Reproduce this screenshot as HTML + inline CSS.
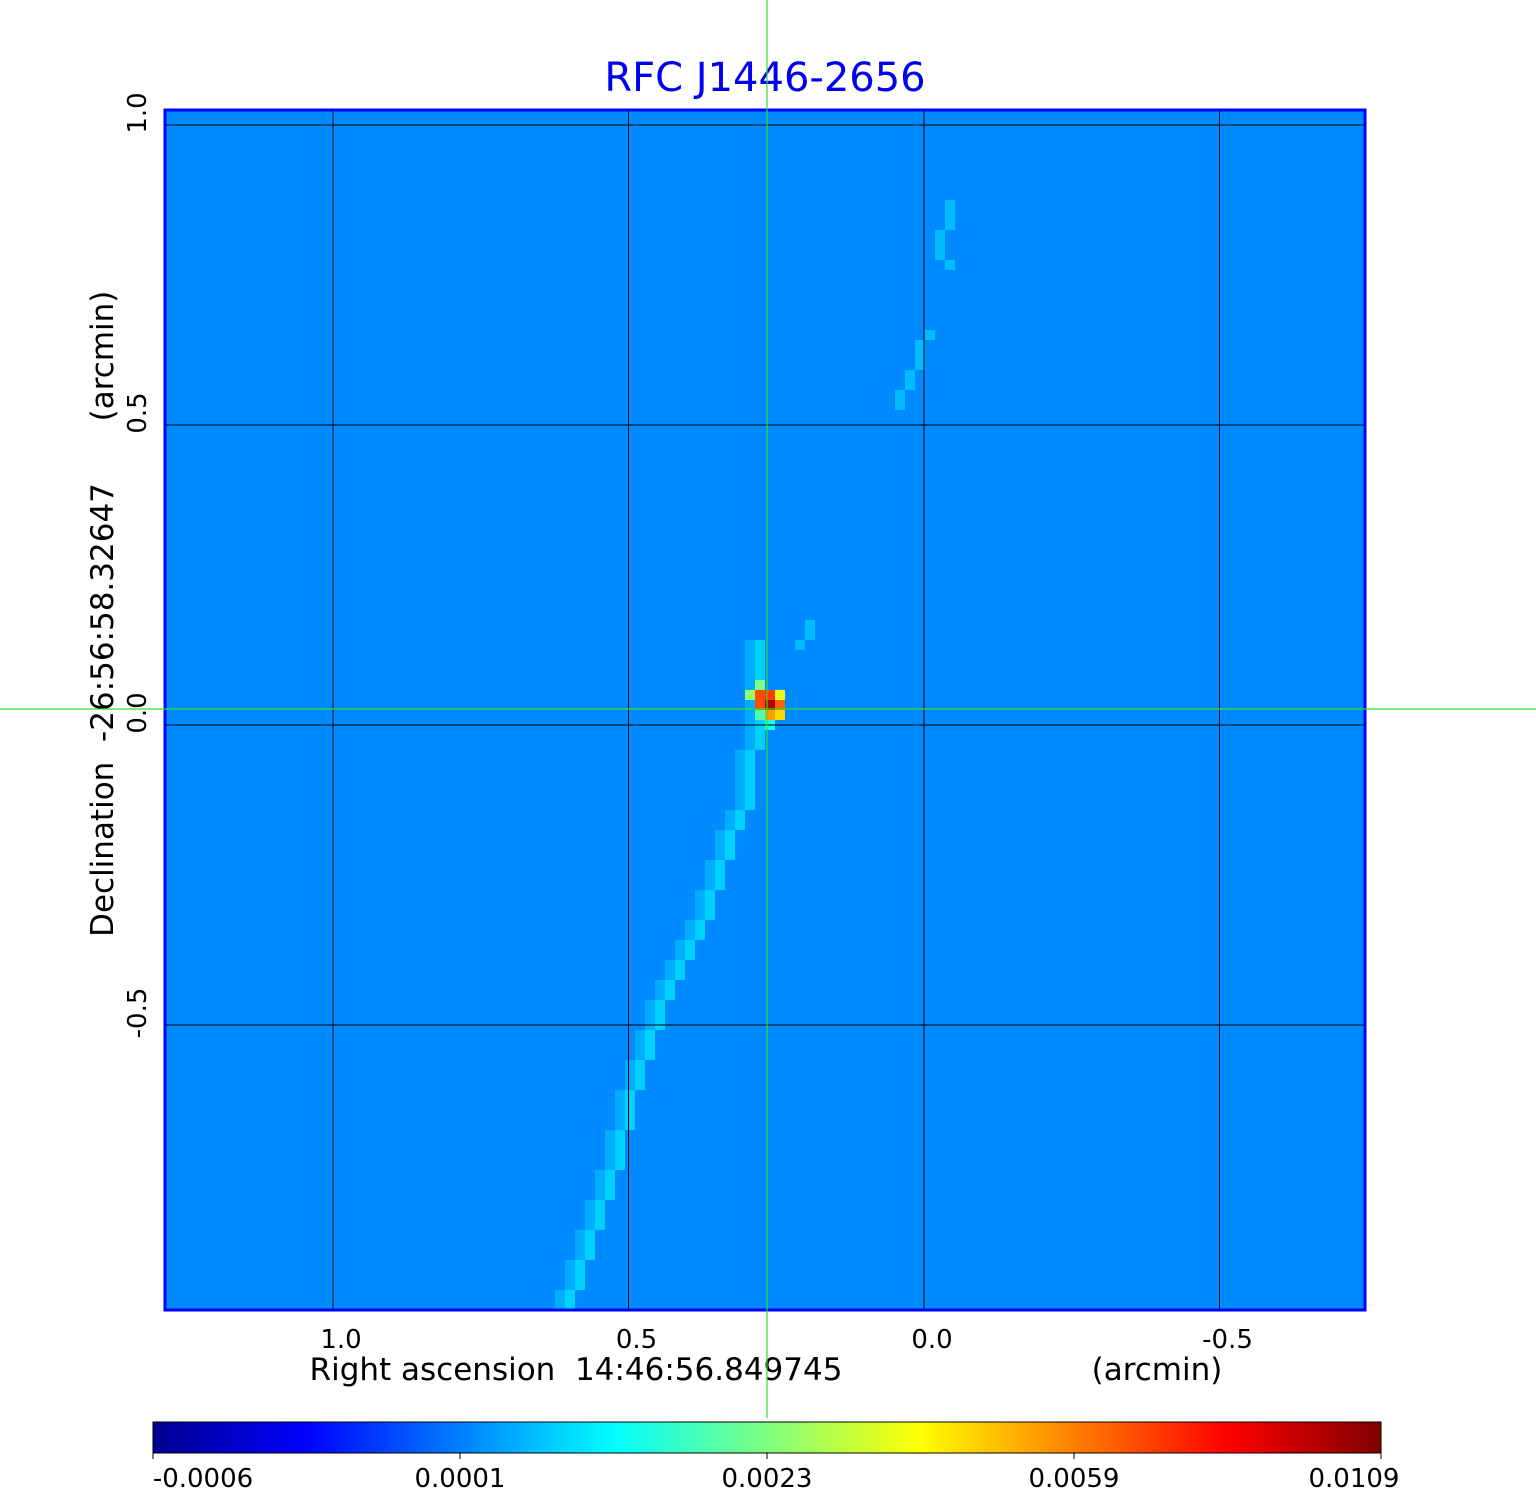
<!DOCTYPE html>
<html><head><meta charset="utf-8"><style>
body{margin:0;background:#fff;}
svg{display:block;font-family:"DejaVu Sans","Liberation Sans",sans-serif;}
text{white-space:pre;}
</style></head><body>
<svg id="fig" width="1536" height="1511" viewBox="0 0 1536 1511" xml:space="preserve">
<defs>
<linearGradient id="jet" x1="0" x2="1" y1="0" y2="0">
<stop offset="0" stop-color="#00008f"/><stop offset="0.125" stop-color="#0000ff"/>
<stop offset="0.375" stop-color="#00ffff"/><stop offset="0.625" stop-color="#ffff00"/>
<stop offset="0.875" stop-color="#ff0000"/><stop offset="1" stop-color="#800000"/>
</linearGradient>
</defs>
<text x="765" y="91" font-size="40" fill="#0000ee" text-anchor="middle">RFC J1446-2656</text>
<g id="image"></g>
<g id="grid"></g>
<rect x="165" y="110" width="1200" height="1200" fill="none" stroke="#0000ff" stroke-width="3"/>
<g id="ticks" font-size="26" fill="#000"></g>
<text x="576" y="1380" font-size="31" text-anchor="middle">Right ascension  14:46:56.849745</text>
<text x="1157" y="1380" font-size="31" text-anchor="middle">(arcmin)</text>
<text transform="translate(113,710) rotate(-90)" font-size="31" text-anchor="middle">Declination  -26:56:58.32647</text>
<text transform="translate(113,356) rotate(-90)" font-size="31" text-anchor="middle">(arcmin)</text>
<rect x="153" y="1422" width="1228" height="31" fill="url(#jet)" stroke="#000" stroke-width="1"/>
<g id="cbticks" font-size="26"></g>
<line x1="767" y1="0" x2="767" y2="1418" stroke="#33dd33" stroke-width="1.2"/>
<line x1="0" y1="709" x2="1536" y2="709" stroke="#33dd33" stroke-width="1.2"/>
</svg>
<script>
const bgLevel = 0.26;
const streakStartRow = 53;
const streakCol = [59,59,59,59,59,59,59,59,59,59,59,58,58,58,58,58,58,57,57,56,56,56,55,55,55,54,54,54,53,53,52,52,51,51,50,50,49,49,49,48,48,48,47,47,47,46,46,46,46,45,45,45,45,44,44,44,43,43,43,42,42,42,41,41,41,40,40];
const streakLevel = 0.33;
const faintCells = [[78,9],[78,10],[78,11],[77,12],[77,13],[77,14],[78,15],[76,22],[75,23],[75,24],[75,25],[74,26],[74,27],[73,28],[73,29],[64,51],[64,52],[63,53]];
const faintLevel = 0.31;
const sourceCells = [[59,57,0.5],[58,58,0.52],[59,58,0.8],[60,58,0.82],[61,58,0.6],[59,59,0.8],[60,59,0.95],[61,59,0.78],[59,60,0.45],[60,60,0.72],[61,60,0.66],[60,61,0.4]];
const xTicks = [1.0,0.5,0.0,-0.5];
const xTickLabels = ["1.0","0.5","0.0","-0.5"];
const yTicks = [1.0,0.5,0.0,-0.5];
const yTickLabels = ["1.0","0.5","0.0","-0.5"];
const cbLabels = ["-0.0006","0.0001","0.0023","0.0059","0.0109"];

const NS="http://www.w3.org/2000/svg";
const X0=165,Y0=110,SZ=1200,CELL=10;
function xs(v){return 924 - v*591;}
function ys(v){return 725 - v*600;}
function jet(t){
  const r=Math.max(0,Math.min(1,Math.min(4*t-1.5,-4*t+4.5)));
  const g=Math.max(0,Math.min(1,Math.min(4*t-0.5,-4*t+3.5)));
  const b=Math.max(0,Math.min(1,Math.min(4*t+0.5,-4*t+2.5)));
  return `rgb(${Math.round(r*255)},${Math.round(g*255)},${Math.round(b*255)})`;
}
const img=document.getElementById('image');
function cell(c,r,t,name){
  const e=document.createElementNS(NS,'rect');
  e.setAttribute('x',X0+c*CELL);e.setAttribute('y',Y0+r*CELL);
  e.setAttribute('width',CELL);e.setAttribute('height',CELL);
  e.setAttribute('fill',jet(t));
  
  
  img.appendChild(e);
}
const bg=document.createElementNS(NS,'rect');
bg.setAttribute('x',X0);bg.setAttribute('y',Y0);bg.setAttribute('width',SZ);bg.setAttribute('height',SZ);
bg.setAttribute('fill',jet(bgLevel));


img.appendChild(bg);
faintCells.forEach(p=>cell(p[0],p[1],faintLevel,'faint-streak-cell'));
streakCol.forEach((c,i)=>{cell(c,streakStartRow+i,streakLevel,'streak-cell');cell(c-1,streakStartRow+i,(streakLevel+bgLevel)/2,'streak-cell');});
sourceCells.forEach(p=>cell(p[0],p[1],p[2],'source-cell'));

const grid=document.getElementById('grid');
function ln(x1,y1,x2,y2,name,stroke){
  const l=document.createElementNS(NS,'line');
  l.setAttribute('x1',x1);l.setAttribute('y1',y1);l.setAttribute('x2',x2);l.setAttribute('y2',y2);
  l.setAttribute('stroke',stroke||'#000');l.setAttribute('stroke-width','1');
  
  
  return l;
}
const ticks=document.getElementById('ticks');
function txt(parent,x,y,s,name,rot,size){
  const t=document.createElementNS(NS,'text');
  if(rot){t.setAttribute('transform',`translate(${x},${y}) rotate(-90)`);}
  else{t.setAttribute('x',x);t.setAttribute('y',y);}
  t.setAttribute('text-anchor','middle');
  if(size)t.setAttribute('font-size',size);
  t.textContent=s;
  
  
  parent.appendChild(t);
}
xTicks.forEach((v,i)=>{grid.appendChild(ln(xs(v),Y0,xs(v),Y0+SZ,'x-grid-line'));txt(ticks,xs(v)+8,1348,xTickLabels[i],'x-tick-label');});
yTicks.forEach((v,i)=>{grid.appendChild(ln(X0,ys(v),X0+SZ,ys(v),'y-grid-line'));txt(ticks,146,ys(v)-12,yTickLabels[i],'y-tick-label',true);});
const cb=document.getElementById('cbticks');
cbLabels.forEach((s,i)=>{const x=153+i*307;cb.appendChild(ln(x,1453,x,1459,'colorbar-tick'));txt(cb,x+(i==0?50:i==4?-27:0),1487,s,'colorbar-tick-label');});
</script>
</body></html>
